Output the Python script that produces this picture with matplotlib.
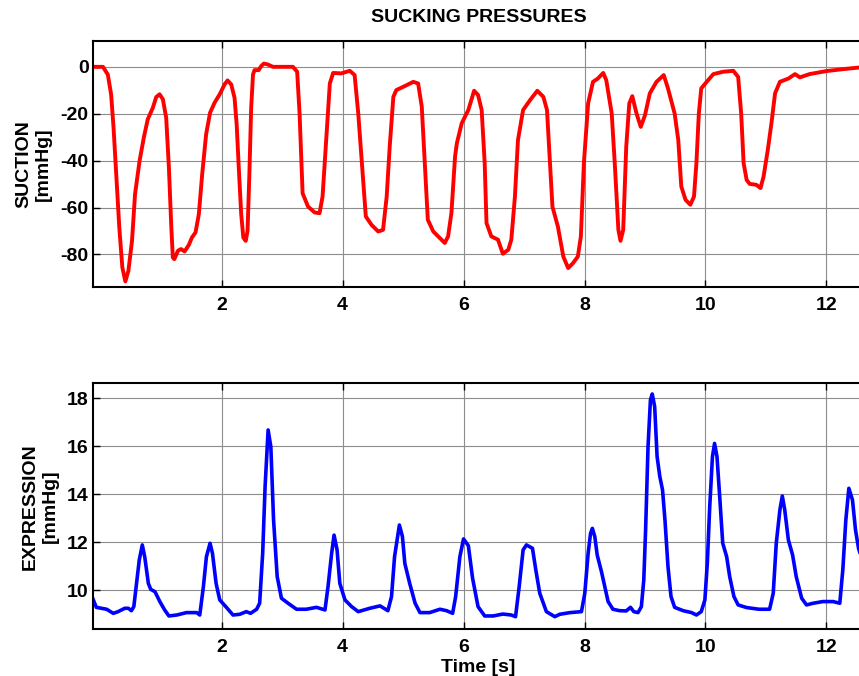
"""
Sucking pressures: suction (top) and expression (bottom) traces over time.
"""
import matplotlib
matplotlib.use("Agg")
import matplotlib.pyplot as plt

# ── data ─────────────────────────────────────────────────────────────────────
suction_t = [
    -0.13, 0.04, 0.12, 0.175, 0.215, 0.26, 0.31, 0.36, 0.41, 0.46, 0.52, 0.57,
    0.645, 0.715, 0.78, 0.865, 0.92, 0.975, 1.03, 1.085, 1.13, 1.17, 1.195, 1.22,
    1.28, 1.33, 1.39, 1.46, 1.51, 1.57, 1.625, 1.68, 1.745, 1.81, 1.885, 1.97,
    2.05, 2.10, 2.16, 2.215, 2.25, 2.285, 2.325, 2.36, 2.40, 2.43, 2.46, 2.49,
    2.52, 2.545, 2.615, 2.655, 2.70, 2.765, 2.85, 3.18,
    3.25, 3.29, 3.34, 3.43, 3.54,
    3.62, 3.67, 3.74, 3.79, 3.845, 3.98, 4.12, 4.20, 4.26, 4.34, 4.385, 4.48,
    4.59, 4.67, 4.73, 4.78, 4.84, 4.89, 5.03, 5.17, 5.25, 5.31, 5.36, 5.41,
    5.50, 5.61, 5.69, 5.745, 5.80, 5.86, 5.89, 5.97, 6.08, 6.175, 6.24, 6.30,
    6.35, 6.38, 6.46, 6.57, 6.65, 6.74, 6.79, 6.85, 6.90, 6.985, 7.10, 7.22,
    7.32, 7.38, 7.43, 7.47, 7.56, 7.65, 7.73, 7.81, 7.89, 7.94, 7.99, 8.06,
    8.14, 8.22, 8.31, 8.36, 8.45, 8.50, 8.56, 8.595, 8.64, 8.69, 8.74, 8.79,
    8.86, 8.93, 9.00, 9.08, 9.19, 9.31, 9.38, 9.49, 9.55, 9.60, 9.67, 9.75,
    9.81, 9.85, 9.89, 9.93, 10.02, 10.13, 10.29, 10.46, 10.54, 10.59, 10.63,
    10.68, 10.73, 10.84, 10.91, 10.96, 11.03, 11.09, 11.15, 11.23, 11.37,
    11.48, 11.56, 11.72, 12.00, 12.27, 12.53, 12.62,
]
suction_p = [
    0, 0, -3.3, -11.8, -26, -45.8, -68.5, -85.5, -91.5, -87, -74.2, -54.3,
    -40.1, -30.2, -22.4, -17.4, -12.9, -11.7, -13.8, -21.7, -43, -68.5, -81.3, -82,
    -78.4, -77.7, -78.7, -75.9, -72.8, -70.6, -62.8, -45.8, -28.8, -19.6, -15.3, -11.7,
    -7.5, -5.8, -7.5, -13.2, -24.5, -43, -62.8, -72.8, -74.2, -69.9, -45.8, -17.4,
    -3.3, -1.4, -1.4, 0.3, 1.4, 1.0, 0, 0,
    -2.1, -19.9, -53.9, -59.6, -62.1,
    -62.4, -55.3, -26.9, -7.1, -2.6, -2.8, -1.7, -3.5, -19.9, -48.2, -63.8, -67.4,
    -70.2, -69.5, -55.3, -34, -12.8, -9.9, -8.2, -6.4, -7.1, -17, -41.1, -65.2,
    -70.2, -73, -75.1, -72.3, -62.4, -38.3, -32.6, -24.1, -18.4, -10.2, -12, -18.4,
    -41, -66.6, -72.3, -73.7, -79.7, -78, -73.7, -55.3, -31.2, -18.4, -14.2, -10.2,
    -12.8, -18.4, -41, -59.6, -68.1, -80.9, -85.8, -83.7, -80.9, -72.3, -41, -15.6,
    -6.4, -5.0, -2.6, -5.7, -19.9, -41, -69.5, -74.2, -69.5, -34, -15.6, -12.5,
    -19.9, -25.6, -20.6, -11.3, -6.4, -3.5, -9.2, -19.9, -31.2, -51, -56.7, -58.8,
    -55.3, -41, -19.9, -9.2, -6.4, -3.1, -2.1, -1.7, -4.3, -19.9, -41,
    -48.2, -49.9, -50.3, -51.7, -46.8, -35.4, -24.1, -11.3, -6.4, -5.0,
    -3.1, -4.5, -3.1, -1.8, -1.0, -0.3, -0.1,
]

expression_t = [
    -0.13, -0.07, 0.10, 0.21, 0.29, 0.40, 0.46, 0.51, 0.55, 0.595, 0.64, 0.69,
    0.73, 0.79, 0.83, 0.90, 0.98, 1.06, 1.13, 1.26, 1.42, 1.59, 1.64, 1.70,
    1.75, 1.81, 1.85, 1.91, 1.97, 2.08, 2.19, 2.30, 2.41, 2.48, 2.58, 2.63,
    2.68, 2.72, 2.77, 2.815, 2.86, 2.92, 2.99, 3.10, 3.24, 3.40, 3.57, 3.71,
    3.76, 3.82, 3.86, 3.91, 3.955, 4.04, 4.15, 4.26, 4.45, 4.62, 4.75, 4.81,
    4.86, 4.94, 4.99, 5.03, 5.11, 5.20, 5.28, 5.44, 5.61, 5.72, 5.82, 5.87,
    5.94, 6.00, 6.08, 6.15, 6.24, 6.35, 6.49, 6.65, 6.79, 6.86, 6.92, 6.985,
    7.04, 7.14, 7.195, 7.26, 7.37, 7.51, 7.59, 7.76, 7.95, 8.005, 8.06, 8.10,
    8.13, 8.17, 8.21, 8.28, 8.335, 8.39, 8.47, 8.58, 8.69, 8.76, 8.815, 8.885,
    8.94, 8.98, 9.01, 9.05, 9.09, 9.12, 9.16, 9.20, 9.245, 9.29, 9.33, 9.38,
    9.43, 9.49, 9.63, 9.77, 9.85, 9.93, 9.99, 10.03, 10.07, 10.115, 10.15, 10.19,
    10.235, 10.285, 10.35, 10.40, 10.47, 10.54, 10.68, 10.885,
    11.06, 11.12, 11.17, 11.23, 11.27, 11.31, 11.37, 11.44,
    11.50, 11.59, 11.67, 11.78, 11.94, 12.11, 12.22, 12.27, 12.32, 12.37,
    12.43, 12.48, 12.53, 12.62,
]
expression_p = [
    9.67, 9.29, 9.21, 9.04, 9.11, 9.25, 9.25, 9.15, 9.32, 10.29, 11.26, 11.89,
    11.40, 10.29, 10.04, 9.94, 9.53, 9.18, 8.93, 8.97, 9.07, 9.07, 8.97, 10.15,
    11.40, 11.96, 11.54, 10.29, 9.60, 9.29, 8.97, 9.00, 9.11, 9.04, 9.21, 9.46,
    11.54, 14.32, 16.68, 15.98, 12.93, 10.57, 9.67, 9.46, 9.21, 9.21, 9.29, 9.18,
    10.15, 11.54, 12.30, 11.68, 10.29, 9.60, 9.32, 9.11, 9.25, 9.35, 9.15, 9.74,
    11.40, 12.72, 12.24, 11.12, 10.29, 9.46, 9.07, 9.07, 9.21, 9.15, 9.04, 9.74,
    11.40, 12.14, 11.86, 10.50, 9.32, 8.93, 8.93, 9.01, 8.97, 8.90, 10.15, 11.68,
    11.89, 11.75, 10.85, 9.88, 9.11, 8.90, 9.00, 9.07, 9.11, 9.88, 11.54, 12.37,
    12.58, 12.24, 11.47, 10.78, 10.15, 9.53, 9.21, 9.15, 9.14, 9.29, 9.11, 9.07,
    9.32, 10.43, 12.51, 15.98, 17.93, 18.18, 17.65, 15.57, 14.74, 14.18, 12.93, 10.99,
    9.74, 9.29, 9.15, 9.07, 8.97, 9.11, 9.60, 11.12, 13.48, 15.57, 16.12, 15.57,
    13.90, 11.96, 11.40, 10.57, 9.74, 9.39, 9.28, 9.21,
    9.21, 9.88, 11.96, 13.35, 13.93, 13.35, 12.10, 11.47,
    10.57, 9.67, 9.39, 9.46, 9.53, 9.53, 9.46, 10.85, 12.93, 14.25,
    13.76, 12.51, 11.75, 11.00,
]

x_ticks = [2, 4, 6, 8, 10, 12]
suction_ticks = [-80, -60, -40, -20, 0]
expression_ticks = [10, 12, 14, 16, 18]

plt.rcParams.update({
    "font.family": ["Liberation Sans", "DejaVu Sans"],
    "font.weight": "bold",
    "font.size": 14,
    "axes.unicode_minus": False,
})

fig = plt.figure(figsize=(8.59, 6.76), dpi=100)
ax1 = fig.add_axes([0.1079, 0.575, 0.8979, 0.3643])
ax2 = fig.add_axes([0.1079, 0.0691, 0.8979, 0.3639])


def _style(ax):
    ax.set_xlim(-0.13, 12.62)
    ax.set_xticks(x_ticks)
    ax.grid(True, color="#8c8c8c", linewidth=0.8, linestyle="-")
    ax.set_axisbelow(True)
    ax.tick_params(direction="in", length=5, width=1, top=True, right=False,
                   labelsize=14)
    ax.tick_params(axis="x", pad=7)
    ax.tick_params(axis="y", pad=3)
    for s in ("left", "bottom", "top"):
        ax.spines[s].set_linewidth(1.5)
    ax.spines["right"].set_visible(False)
    for lab in ax.get_xticklabels() + ax.get_yticklabels():
        lab.set_fontweight("bold")


# ── suction ──────────────────────────────────────────────────────────────────
ax1.plot(suction_t, suction_p, color="#ff0000", linewidth=2.8,
         solid_joinstyle="round", solid_capstyle="round")
ax1.set_ylim(-94, 11)
ax1.set_yticks(suction_ticks)
_style(ax1)
ax1.set_ylabel("SUCTION\n[mmHg]", fontweight="bold", fontsize=14,
               linespacing=1.22, labelpad=6)

# ── expression ───────────────────────────────────────────────────────────────
ax2.plot(expression_t, expression_p, color="#0000ff", linewidth=2.6,
         solid_joinstyle="round", solid_capstyle="round")
ax2.set_ylim(8.375, 18.625)
ax2.set_yticks(expression_ticks)
_style(ax2)
ax2.set_ylabel("EXPRESSION\n[mmHg]", fontweight="bold", fontsize=14,
               linespacing=1.22, labelpad=6)
ax2.set_xlabel("Time [s]", fontweight="bold", fontsize=14, labelpad=2)

fig.text(478.5 / 859, 1 - 18 / 676, "SUCKING PRESSURES", ha="center",
         va="center", fontweight="bold", fontsize=14)

fig.savefig("out.png", dpi=100)
plt.close(fig)
